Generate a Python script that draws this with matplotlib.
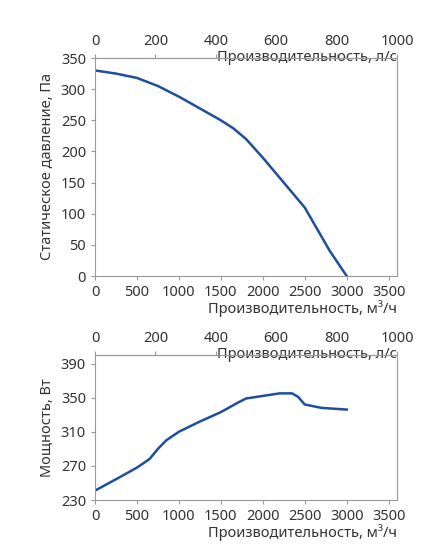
import matplotlib
matplotlib.use("Agg")
import matplotlib.pyplot as plt

plt.rcParams['font.family'] = ['Noto Sans', 'DejaVu Sans']
plt.rcParams['font.size'] = 10.5

flow_p = [0, 250, 500, 750, 1000, 1250, 1500, 1650, 1800, 2000, 2250, 2500, 2650, 2800, 3000]
pres = [330, 325, 318, 305, 288, 269, 250, 237, 220, 190, 150, 110, 75, 40, 0]
flow_w = [0, 300, 500, 650, 750, 850, 1000, 1250, 1500, 1700, 1800, 2000, 2200, 2350, 2420, 2500, 2700, 3000]
power = [241, 257, 268, 278, 290, 300, 310, 322, 333, 344, 349, 352, 355, 355, 351, 342, 338, 336]

col = '#1f4e9a'
gc = '#9a9a9a'
fig = plt.figure(figsize=(4.33, 5.53), dpi=100)
W, H = 433, 553
ax1 = fig.add_axes([95/W, 1-276/H, 302/W, 218/H])
ax2 = fig.add_axes([95/W, 1-500/H, 302/W, 145/H])

def style(ax, ybot, ytop):
    for s in ax.spines.values():
        s.set_color(gc)
    ax.tick_params(colors=gc, labelcolor='#333333', length=3)
    ax.set_xlim(0, 3600)
    ax.set_xticks(range(0, 3501, 500))
    ax.set_xlabel('Производительность, м³/ч', color='#333333', ha='right', va='center')
    ax.xaxis.set_label_coords(1.0, ybot)
    sec = ax.secondary_xaxis('top', functions=(lambda x: x/3.6, lambda x: x*3.6))
    sec.set_xticks(range(0, 1001, 200))
    sec.tick_params(colors=gc, labelcolor='#333333', length=3)
    sec.spines['top'].set_color(gc)
    sec.set_xlabel('Производительность, л/с', color='#333333', ha='right', va='center')
    sec.xaxis.set_label_coords(1.0, ytop)

ax1.plot(flow_p, pres, color=col, lw=1.8)
ax1.set_ylim(0, 350)
ax1.set_yticks(range(0, 351, 50))
ax1.set_ylabel('Статическое давление, Па', color='#333333')
style(ax1, -0.15, 1.175)

ax2.plot(flow_w, power, color=col, lw=1.8)
ax2.set_ylim(230, 400)
ax2.set_yticks(range(230, 391, 40))
ax2.set_ylabel('Мощность, Вт', color='#333333')
style(ax2, -0.225, 1.19)

fig.savefig('out.png', dpi=100)
